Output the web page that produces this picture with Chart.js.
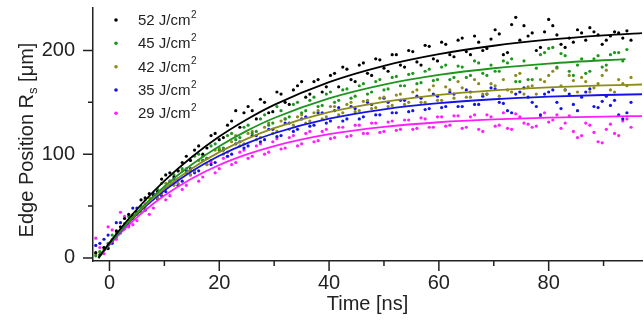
<!DOCTYPE html>
<html><head><meta charset="utf-8">
<script src="https://cdn.jsdelivr.net/npm/chart.js@4/dist/chart.umd.min.js"></script>
<style>html,body{margin:0;padding:0;background:#fff}canvas{display:block}</style>
</head><body>
<canvas id="c" width="644" height="320"></canvas>
<script>
// ---- data ----
const fluences = ['52', '45', '42', '35', '29'];
const unitBase = ' J/cm';
const unitSup = '2';
const seriesColors = ['#000000', '#1e961e', '#8c8c1c', '#1414e6', '#ff1eff'];

const timesA = [-2.5,-1,0.5,2,3.5,5,6.5,8,9.5,11,12.5,14,15.5,17,18.5,20,21.5,23,24.5,26,27.5,29,30.5,32,33.5,35,36.5,38,39.5,41,42.5,44,45.5,47,48.5,50,51.5,53,54.5,56,57.5,59,60.5,62,63.5,65,66.5,68,69.5,71,72.5,74,75.5,77,78.5,80,81.5,83,84.5,86,87.5,89,90.5,92,93.5,95];
const timesB = [-1.75,-0.25,1.25,2.75,4.25,5.75,7.25,8.75,10.25,11.75,13.25,14.75,16.25,17.75,19.25,20.75,22.25,23.75,25.25,26.75,28.25,29.75,31.25,32.75,34.25,35.75,37.25,38.75,40.25,41.75,43.25,44.75,46.25,47.75,49.25,50.75,52.25,53.75,55.25,56.75,58.25,59.75,61.25,62.75,64.25,65.75,67.25,68.75,70.25,71.75,73.25,74.75,76.25,77.75,79.25,80.75,82.25,83.75,85.25,86.75,88.25,89.75,91.25,92.75,94.25];

// measured points (first set at timesA, second at timesB)
const pts52a = [5,10,16,30,42,44,58,60,76,82,84,98,104,100,118,114,128,142,140,142,153,140,160,150,162,170,158,172,165,178,184,172,186,178,192,183,196,186,200,189,205,192,208,196,210,199,214,200,211,216,198,232,224,217,203,230,215,203,208,217,222,215,210,218,212,210];
const pts52b = [3,9,26,38,40,56,62,64,80,78,92,94,108,106,120,116,132,126,146,134,150,141,158,148,166,155,170,160,176,165,182,170,188,176,191,180,196,184,199,186,204,190,206,194,212,196,208,202,220,196,225,210,214,200,218,224,206,212,220,210,218,206,214,217,219];
const pts45a = [2,10,22,24,40,42,56,57,72,70,84,82,98,94,108,104,118,114,126,120,134,128,146,134,148,140,152,146,158,150,162,154,166,158,170,162,174,166,177,168,180,171,184,172,185,174,190,178,186,180,188,170,190,172,196,202,184,195,176,192,180,195,186,198,190];
const pts45b = [6,14,20,33,38,50,54,66,68,80,86,84,100,96,110,106,120,116,128,122,138,130,142,136,150,142,155,147,160,152,163,156,168,160,172,163,175,166,178,169,182,172,186,174,184,176,188,176,180,190,192,170,172,183,198,203,197,180,186,178,192,184,196,198,201];
const pts42a = [4,8,18,24,36,45,48,60,62,74,72,86,84,98,94,106,102,118,110,122,116,130,122,134,128,138,132,142,136,146,140,150,142,152,145,155,147,158,150,162,150,166,152,162,170,155,172,158,168,156,162,176,158,166,172,176,183,162,171,174,160,168,181,160,168,174];
const pts42b = [6,10,24,28,42,44,58,58,72,70,84,80,94,90,104,100,112,108,120,114,126,120,132,124,136,130,140,134,146,138,148,141,151,144,154,146,157,148,160,150,162,152,165,154,164,155,168,158,166,172,160,178,165,158,170,180,166,176,160,170,164,176,162,172,166];
const pts35a = [12,18,14,34,32,48,46,62,60,74,70,84,82,94,90,104,98,110,106,118,112,124,117,130,122,134,127,140,130,142,132,146,134,150,138,154,140,152,141,156,143,158,145,160,146,162,148,156,164,150,142,158,164,150,138,160,150,162,148,155,163,145,156,152,134,150];
const pts35b = [14,22,34,28,48,44,58,57,64,76,74,86,84,96,92,104,100,112,108,118,114,124,118,130,124,136,128,140,132,145,134,144,136,148,138,150,140,152,142,154,144,156,146,158,146,160,148,158,163,149,140,160,155,146,158,162,144,158,142,160,146,151,147,138,140];
const pts29a = [19,4,27,44,30,36,52,48,64,60,75,70,84,78,92,86,98,92,104,98,110,102,115,106,118,110,122,113,124,116,126,118,128,120,130,122,132,124,133,125,134,126,136,128,137,126,138,122,136,128,125,139,130,126,136,131,138,130,122,118,128,112,124,120,132,126];
const pts29b = [10,30,18,40,32,48,42,62,56,72,66,80,74,90,82,96,90,102,96,108,100,112,105,116,108,120,112,122,115,126,117,128,120,130,121,131,123,133,124,135,126,136,127,137,125,136,124,138,127,140,124,136,129,127,140,133,125,137,116,130,121,111,129,118,134];

// fitted curves
const fitTimes  = [-2,0,3,6,10,15,20,25,30,40,50,60,70,80,90,97];
const fitTimesG = [-2,0,3,6,10,15,20,25,30,40,50,60,70,80,90,94];
const fit52 = [0,14.5,34.6,52.7,74.2,97.3,117.0,133.5,147.6,169.6,185.3,196.5,204.6,210.4,214.6,216.7];
const fit45 = [0,13.6,32.4,49.2,69.0,90.1,107.7,122.5,134.9,153.8,167.1,176.4,182.9,187.4,190.6,191.6];
const fit42 = [0,13.6,32.0,48.2,66.9,86.3,102.0,114.8,125.2,140.5,150.5,157.2,161.5,164.4,166.3,167.2];
const fit35 = [0,13.3,31.3,47.0,65.0,83.6,98.5,110.5,120.2,134.2,143.3,149.2,153.0,155.5,157.1,157.8];
const fit29 = [0,12.5,29.2,43.7,60.1,76.6,89.6,99.8,107.9,119.3,126.4,130.8,133.5,135.2,136.3,136.8];

const xTickValues = [0,10,20,30,40,50,60,70,80,90];
const xLabelValues = [0,20,40,60,80];
const yTickValues = [0,50,100,150,200];
const yLabelValues = [0,100,200];
const xTitle = 'Time [ns]';
const yTitleMain = 'Edge Position R';
const yTitleSub = 's';
const yTitleTail = ' [\u03bcm]';

// ---- build ----
const FONT = '"Liberation Sans", Arial, sans-serif';
const zip = (xs, ys) => ys.map((v, i) => ({x: xs[i], y: v}));
const scatterSets = [
  zip(timesA, pts52a).concat(zip(timesB, pts52b)),
  zip(timesB, pts45b).concat(zip(timesA, pts45a)),
  zip(timesA, pts42a).concat(zip(timesB, pts42b)),
  zip(timesB, pts35b).concat(zip(timesA, pts35a)),
  zip(timesA, pts29a).concat(zip(timesB, pts29b))
];
const fitSets = [
  zip(fitTimes, fit52), zip(fitTimesG, fit45), zip(fitTimes, fit42), zip(fitTimes, fit35), zip(fitTimes, fit29)
];

const datasets = [];
scatterSets.forEach((d, i) => datasets.push({
  label: fluences[i] + unitBase + unitSup, data: d, showLine: false,
  pointRadius: 1.6, pointBorderWidth: 0, pointHoverRadius: 0,
  backgroundColor: seriesColors[i], borderColor: seriesColors[i], order: 10 + i
}));
fitSets.forEach((d, i) => datasets.push({
  label: 'fit' + i, data: d, showLine: true, pointRadius: 0,
  borderColor: seriesColors[i], borderWidth: 1.8, cubicInterpolationMode: 'monotone',
  fill: false, order: 1 + i
}));

const decor = {
  id: 'decor',
  afterDraw(chart) {
    const {ctx, chartArea: a, scales: {x, y}} = chart;
    ctx.save();
    ctx.strokeStyle = '#222';
    ctx.lineWidth = 1.5;
    ctx.beginPath();
    xTickValues.forEach(v => {
      const px = x.getPixelForValue(v);
      const len = xLabelValues.includes(v) ? 10 : 5;
      ctx.moveTo(px, a.bottom); ctx.lineTo(px, a.bottom + len);
    });
    yTickValues.forEach(v => {
      const py = y.getPixelForValue(v);
      const len = yLabelValues.includes(v) ? 10 : 5;
      ctx.moveTo(a.left, py); ctx.lineTo(a.left - len, py);
    });
    ctx.stroke();

    // axis titles
    ctx.fillStyle = '#222';
    ctx.font = '20px ' + FONT;
    ctx.textAlign = 'center';
    ctx.textBaseline = 'middle';
    ctx.fillText(xTitle, (a.left + a.right) / 2, 304);

    ctx.save();
    ctx.translate(27, 140);
    ctx.rotate(-Math.PI / 2);
    ctx.textAlign = 'left';
    ctx.font = '20px ' + FONT;
    const w1 = ctx.measureText(yTitleMain).width;
    const w3 = ctx.measureText(yTitleTail).width;
    ctx.font = '13px ' + FONT;
    const w2 = ctx.measureText(yTitleSub).width;
    let sx = -(w1 + w2 + w3) / 2;
    ctx.font = '20px ' + FONT;
    ctx.fillText(yTitleMain, sx, 0); sx += w1;
    ctx.font = '13px ' + FONT;
    ctx.fillText(yTitleSub, sx, 6); sx += w2;
    ctx.font = '20px ' + FONT;
    ctx.fillText(yTitleTail, sx, 0);
    ctx.restore();

    // legend
    const rows = [20, 43.3, 66.7, 90, 113.3];
    fluences.forEach((f, i) => {
      const ry = rows[i];
      ctx.fillStyle = seriesColors[i];
      ctx.beginPath(); ctx.arc(116, ry, 1.8, 0, Math.PI * 2); ctx.fill();
      ctx.fillStyle = '#222';
      ctx.textAlign = 'left';
      ctx.textBaseline = 'middle';
      ctx.font = '15px ' + FONT;
      const t = f + unitBase;
      ctx.fillText(t, 138, ry + 1);
      const tw = ctx.measureText(t).width;
      ctx.font = '10px ' + FONT;
      ctx.fillText(unitSup, 138 + tw + 0.5, ry - 5);
    });
    ctx.restore();
  }
};

new Chart(document.getElementById('c'), {
  type: 'line',
  data: {datasets},
  options: {
    responsive: false, animation: false, devicePixelRatio: 1,
    layout: {padding: {left: 0, right: 2, top: 8, bottom: 0}},
    plugins: {legend: {display: false}, tooltip: {enabled: false}},
    scales: {
      x: {
        type: 'linear', min: -3, max: 97,
        afterFit: s => { s.height = 59; s.paddingLeft = 0; s.paddingRight = 0; },
        afterBuildTicks: s => { s.ticks = xLabelValues.map(v => ({value: v})); },
        grid: {display: false, drawTicks: false},
        border: {display: true, color: '#222', width: 1.5},
        ticks: {font: {family: FONT, size: 20}, color: '#222', padding: 10, maxRotation: 0, autoSkip: false}
      },
      y: {
        type: 'linear', min: -3, max: 241,
        afterFit: s => { s.width = 93; s.paddingTop = 0; s.paddingBottom = 0; },
        afterBuildTicks: s => { s.ticks = yLabelValues.map(v => ({value: v})); },
        grid: {display: false, drawTicks: false},
        border: {display: true, color: '#222', width: 1.5},
        ticks: {font: {family: FONT, size: 20}, color: '#222', padding: 18, autoSkip: false}
      }
    }
  },
  plugins: [decor]
});
</script>
</body></html>
